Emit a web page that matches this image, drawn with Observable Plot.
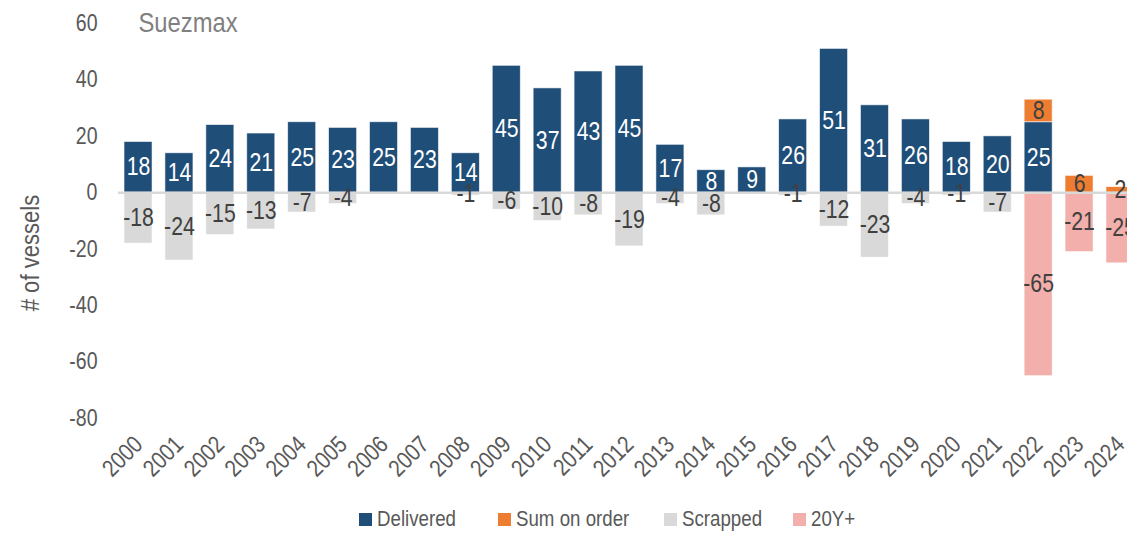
<!DOCTYPE html>
<html>
<head>
<meta charset="utf-8">
<script src="https://cdn.jsdelivr.net/npm/d3@7"></script>
<script src="https://cdn.jsdelivr.net/npm/@observablehq/plot@0.6"></script>
<style>
  html, body { margin: 0; padding: 0; background: #fff; overflow: hidden; }
  #wrap { position: relative; width: 1127px; height: 533px; }
  .legend { position: absolute; top: 502px; left: 0; width: 1127px; height: 34px;
    font-family: "Liberation Sans", Arial, sans-serif; font-size: 22px; color: #595959; }
  .legend .item { position: absolute; top: 0; display: flex; align-items: center; height: 34px; white-space: nowrap; }
  .legend .sw { width: 13px; height: 13px; margin-right: 5px; flex: none; }
  .legend .tx { display: inline-block; transform: scaleX(0.85); transform-origin: left center; }
</style>
</head>
<body>
<div id="wrap"></div>
<script>
const years = ["2000","2001","2002","2003","2004","2005","2006","2007","2008","2009","2010","2011","2012","2013","2014","2015","2016","2017","2018","2019","2020","2021","2022","2023","2024"];
const delivered = [18,14,24,21,25,23,25,23,14,45,37,43,45,17,8,9,26,51,31,26,18,20,25,0,0];
const onOrder   = [0,0,0,0,0,0,0,0,0,0,0,0,0,0,0,0,0,0,0,0,0,0,8,6,2];
const scrapped  = [-18,-24,-15,-13,-7,-4,0,0,-1,-6,-10,-8,-19,-4,-8,0,-1,-12,-23,-4,-1,-7,0,0,0];
const over20    = [0,0,0,0,0,0,0,0,0,0,0,0,0,0,0,0,0,0,0,0,0,0,-65,-21,-25];
const seriesNames = ["Delivered","Sum on order","Scrapped","20Y+"];
const seriesColors = ["#1F4E79","#ED7D31","#D9D9D9","#F2AFAB"];
const yTicks = [-80,-60,-40,-20,0,20,40,60];
const title = "Suezmax";
const yLabel = "# of vessels";

const rows = [];
years.forEach((yr, i) => {
  [delivered[i], onOrder[i], scrapped[i], over20[i]].forEach((v, k) => {
    if (v) rows.push({year: yr, series: seriesNames[k], value: v});
  });
});

const font = '"Liberation Sans", Arial, sans-serif';

const chart = Plot.plot({
  width: 1127,
  height: 500,
  marginTop: 23,
  marginBottom: 82,
  marginLeft: 118,
  marginRight: 0,
  style: {fontFamily: font, background: "white", overflow: "hidden"},
  x: {domain: years, range: [118, 1140], paddingInner: 0.315, paddingOuter: 0.147, round: false, label: null},
  y: {domain: [-80, 60], ticks: yTicks, label: null},
  color: {domain: seriesNames, range: seriesColors},
  marks: [
    Plot.barY(rows, {x: "year", y: "value", fill: "series", stroke: "white", strokeWidth: 0.8, strokeOpacity: 0.7}),
    Plot.ruleY([0], {stroke: "#D9D9D9", strokeWidth: 2.5}),
    Plot.text(rows, Plot.stackY({x: "year", y: "value",
      text: d => d.series === "Delivered" ? String(d.value) : null,
      fill: "white", fontSize: 25})),
    Plot.text(rows, Plot.stackY({x: "year", y: "value",
      text: d => d.series !== "Delivered" ? String(d.value) : null,
      fill: "#404040", fontSize: 25})),
    Plot.axisY(yTicks, {tickSize: 0, tickPadding: 21, fontSize: 23, fill: "#595959", label: null, tickFormat: d => String(d)}),
    Plot.axisX({tickSize: 0, tickPadding: 22, tickRotate: -45, fontSize: 24, fill: "#595959", label: null}),
    Plot.text([title], {frameAnchor: "top-left", dx: 20, lineAnchor: "middle", textAnchor: "start", fontSize: 28, fill: "#808080"}),
    Plot.text([yLabel], {frameAnchor: "left", dx: -88, dy: 32, rotate: -90, lineAnchor: "middle", textAnchor: "middle", fontSize: 26, fill: "#595959"})
  ]
});

// narrow the glyphs horizontally (reference uses a condensed face)
const sx = 0.85;
chart.querySelectorAll("text").forEach(t => {
  const x = +(t.getAttribute("x") || 0);
  const tr = t.getAttribute("transform") || "";
  t.setAttribute("transform", `${tr} translate(${x},0) scale(${sx},1) translate(${-x},0)`);
});
document.getElementById("wrap").appendChild(chart);

const legendLeft = [359, 498, 664, 793];
const legend = document.createElement("div");
legend.className = "legend";
seriesNames.forEach((name, k) => {
  const it = document.createElement("div");
  it.className = "item";
  it.style.left = legendLeft[k] + "px";
  const sw = document.createElement("span");
  sw.className = "sw";
  sw.style.background = seriesColors[k];
  const tx = document.createElement("span");
  tx.className = "tx";
  tx.textContent = name;
  it.appendChild(sw); it.appendChild(tx);
  legend.appendChild(it);
});
document.getElementById("wrap").appendChild(legend);
</script>
</body>
</html>
